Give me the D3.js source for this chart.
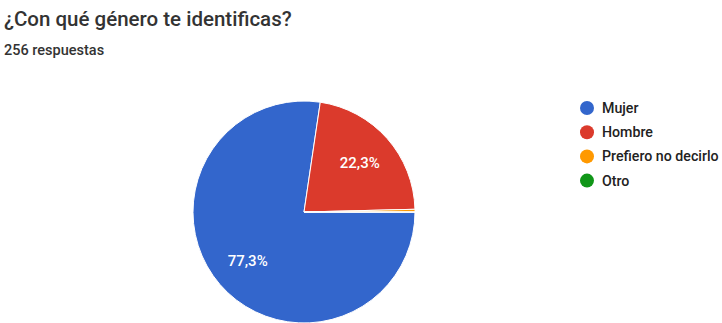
<!DOCTYPE html>
<html><head><meta charset="utf-8">
<script src="https://cdn.jsdelivr.net/npm/d3@7"></script>
<style>body{margin:0;background:#fff;}svg{display:block;font-family:Roboto, Arial, sans-serif;}</style>
</head><body>
<svg id="c" width="722" height="323"></svg>
<script>
const title = "¿Con qué género te identificas?";
const subtitle = "256 respuestas";
const categories = ["Mujer", "Hombre", "Prefiero no decirlo", "Otro"];
const counts = [198, 57, 1, 0];
const colors = ["#3366cc", "#db3a2c", "#ff9900", "#109618"];

const svg = d3.select("#c");
svg.append("text").attr("x", 4).attr("y", 26).attr("font-size", 20.5).attr("font-weight", 500).attr("fill", "#333").text(title);
svg.append("text").attr("x", 4).attr("y", 55).attr("font-size", 14.5).attr("font-weight", 500).attr("fill", "#333").text(subtitle);

const cx = 304, cy = 212, r = 111;
const total = d3.sum(counts);
const pie = d3.pie().sort(null).startAngle(Math.PI/2).endAngle(Math.PI/2 + 2*Math.PI);
const arcs = pie(counts);
const arc = d3.arc().innerRadius(0).outerRadius(r);
const g = svg.append("g").attr("transform", `translate(${cx},${cy})`);
g.selectAll("path").data(arcs).join("path")
  .attr("d", arc).attr("fill", (d,i)=>colors[i])
  .attr("stroke", "#fff").attr("stroke-width", 1);
const labelArc = d3.arc().innerRadius(r*0.67).outerRadius(r*0.67);
g.selectAll("text").data(arcs.filter(d => d.value/total > 0.05)).join("text")
  .attr("transform", d => `translate(${labelArc.centroid(d)})`)
  .attr("text-anchor", "middle").attr("dy", "0.35em")
  .attr("font-size", 15).attr("font-weight", 500).attr("fill", "#fff")
  .text(d => (d.value/total*100).toFixed(1).replace(".", ",") + "%");

const lg = svg.append("g");
categories.forEach((c, i) => {
  const y = 108 + i*24.2;
  lg.append("circle").attr("cx", 587).attr("cy", y).attr("r", 7).attr("fill", colors[i]);
  lg.append("text").attr("x", 602).attr("y", y).attr("dy", "0.35em").attr("font-size", 14.2).attr("font-weight", 500).attr("fill", "#222").text(c);
});
</script>
</body></html>
